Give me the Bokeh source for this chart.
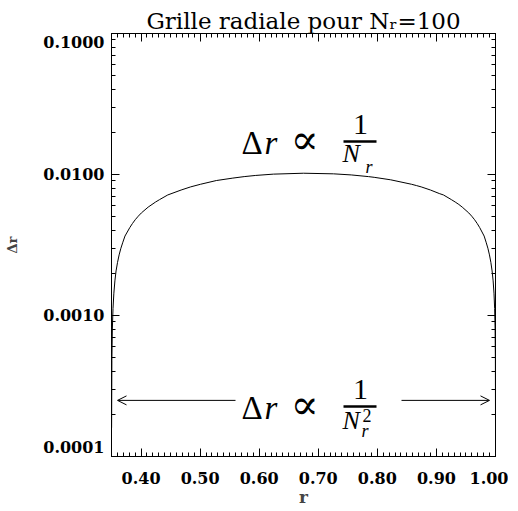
import numpy as np
from bokeh.plotting import figure
from bokeh.models import (FixedTicker, LinearAxis, LogAxis, Label, Arrow, OpenHead,
                          ColumnDataSource, Range1d)
from bokeh.embed import file_html
from bokeh.resources import INLINE

# ---- data ----
r_vals = [0.35016, 0.35064, 0.35144, 0.35256, 0.35400, 0.35576, 0.35771, 0.36021,
          0.36290, 0.36591, 0.36921, 0.37282, 0.37673, 0.38093, 0.38542, 0.39020,
          0.39526, 0.40059, 0.41207, 0.42458, 0.43121, 0.44519, 0.46784, 0.48397,
          0.50086, 0.52745, 0.55536, 0.57457, 0.59418, 0.62416, 0.67500, 0.72584,
          0.75582, 0.78509, 0.79464, 0.82255, 0.85768, 0.86603, 0.87420, 0.88993,
          0.90481, 0.91191, 0.92542, 0.93180, 0.93793, 0.94370, 0.95474, 0.95980,
          0.96458, 0.96907, 0.97327, 0.97718, 0.98079, 0.98409, 0.98710, 0.98979,
          0.99217, 0.99424, 0.99600, 0.99744, 0.99856, 0.99936, 0.99984, 1.00000]
dr_vals = [1.60e-4, 4.81e-4, 8.01e-4, 1.12e-3, 1.44e-3, 1.76e-3, 2.07e-3, 2.38e-3,
           2.69e-3, 3.00e-3, 3.31e-3, 3.66e-3, 3.91e-3, 4.20e-3, 4.49e-3, 4.78e-3,
           5.06e-3, 5.34e-3, 5.87e-3, 6.38e-3, 6.63e-3, 7.16e-3, 7.76e-3, 8.17e-3,
           8.53e-3, 9.06e-3, 9.43e-3, 9.66e-3, 9.85e-3, 1.006e-2, 1.021e-2, 1.011e-2,
           9.93e-3, 9.66e-3, 9.55e-3, 9.17e-3, 8.53e-3, 8.35e-3, 8.17e-3, 7.76e-3,
           7.33e-3, 7.16e-3, 6.63e-3, 6.38e-3, 6.13e-3, 5.87e-3, 5.34e-3, 5.06e-3,
           4.78e-3, 4.49e-3, 4.20e-3, 3.91e-3, 3.66e-3, 3.31e-3, 3.00e-3, 2.69e-3,
           2.38e-3, 2.07e-3, 1.76e-3, 1.44e-3, 1.12e-3, 8.01e-4, 4.81e-4, 1.60e-4]
x_ticks = [0.40, 0.50, 0.60, 0.70, 0.80, 0.90, 1.00]
x_tick_labels = ["0.40", "0.50", "0.60", "0.70", "0.80", "0.90", "1.00"]
y_ticks = [1e-4, 1e-3, 1e-2, 1e-1]
y_tick_labels = ["0.0001\n", "0.0010", "0.0100", "\n0.1000"]
arrow_level = 2.5e-4
title_text = "Grille radiale pour N\u1d63=100"

XMIN, XMAX = 0.35, 1.0
YMIN, YMAX = 1e-4, 1e-1

OX, OY = 2, 0                        # where the figure lands on the page
FL, FT, FW, FH = 111, 33, 384, 423   # frame position inside figure
W, H = FL + FW + 13, 510

# page pixel -> data helpers for annotation placement
def X(px):
    return XMIN + (px - OX - FL) * (XMAX - XMIN) / FW

def Y(py):
    return 10 ** (-4 + (FT + FH + OY - py) * 3.0 / FH)

SERIF = "DejaVu Serif"

p = figure(width=W, height=H, output_backend="svg", toolbar_location=None,
           x_range=Range1d(XMIN, XMAX), y_range=Range1d(YMIN, YMAX),
           y_axis_type="log", x_axis_location=None, y_axis_location=None,
           min_border_left=FL, min_border_top=FT,
           min_border_right=W - FL - FW, min_border_bottom=H - FT - FH)
p.grid.visible = False
p.outline_line_color = "black"
p.outline_line_width = 1
p.background_fill_color = "white"
p.border_fill_color = "white"

p.title.text = title_text
p.title.align = "center"
p.title.text_font = SERIF
p.title.text_font_size = "23px"
p.title.text_font_style = "normal"
p.title.text_color = "black"
p.title.standoff = 0

x_minor = [round(v, 2) for v in np.arange(0.35, 1.0001, 0.01)]
y_minor = [k * 10.0 ** e for e in range(-4, -1) for k in range(2, 10)]
xt = FixedTicker(ticks=x_ticks, minor_ticks=x_minor)
yt = FixedTicker(ticks=y_ticks, minor_ticks=y_minor)

def style(ax, labels=True):
    ax.axis_line_color = "black"
    ax.axis_line_width = 1
    ax.major_tick_in = 8
    ax.major_tick_out = 0
    ax.minor_tick_in = 4
    ax.minor_tick_out = 0
    ax.major_tick_line_color = "black"
    ax.minor_tick_line_color = "black"
    if labels:
        ax.major_label_text_font = SERIF
        ax.major_label_text_font_style = "bold"
        ax.major_label_text_font_size = "16px"
        ax.major_label_text_color = "black"
    else:
        ax.major_label_text_font_size = "1px"
        ax.major_label_text_color = None
        ax.major_label_standoff = 0

bottom = LinearAxis(ticker=xt, major_label_overrides=dict(zip(x_ticks, x_tick_labels)),
                    axis_label="r")
style(bottom)
bottom.major_label_standoff = 15
bottom.axis_label_text_font = SERIF
bottom.axis_label_text_font_style = "bold"
bottom.axis_label_text_font_size = "17px"
bottom.axis_label_standoff = 0
p.add_layout(bottom, "below")

left = LogAxis(ticker=yt, major_label_overrides=dict(zip(y_ticks, y_tick_labels)),
               axis_label="\u0394r")
style(left)
left.major_label_standoff = 7
left.major_label_text_line_height = 0.9
left.axis_label_text_font = SERIF
left.axis_label_text_font_style = "bold"
left.axis_label_text_font_size = "13px"
left.axis_label_standoff = 20
p.add_layout(left, "left")

top = LinearAxis(ticker=xt)
style(top, labels=False)
p.add_layout(top, "above")
right = LogAxis(ticker=yt)
style(right, labels=False)
p.add_layout(right, "right")

# curve
src = ColumnDataSource(dict(r=r_vals, dr=dr_vals))
p.line("r", "dr", source=src, line_color="black", line_width=1)

# arrows
head = dict(size=9, line_width=1, line_color="black")
p.add_layout(Arrow(end=OpenHead(**head), x_start=X(237), x_end=X(119),
                   y_start=arrow_level, y_end=arrow_level, line_width=1))
p.add_layout(Arrow(end=OpenHead(**head), x_start=X(403), x_end=X(491),
                   y_start=arrow_level, y_end=arrow_level, line_width=1))

def lab(px, base_py, text, fs, **kw):
    # text lands about 0.38 em lower than its anchor; compensate
    args = dict(text_baseline="alphabetic", text_color="black", text_font="Liberation Serif")
    args.update(kw)
    p.add_layout(Label(x=X(px), y=Y(base_py - 0.38 * fs), text=text,
                       text_font_size=f"{fs}px", **args))

def formula(base_py, num_base, den_base, bar_py, sup=False):
    lab(243, base_py, "\u0394", 33)
    lab(266, base_py, "r", 33, text_font_style="italic")
    lab(292, base_py, "\u221d", 42, text_font="DejaVu Serif")
    lab(362, num_base, "1", 30, text_align="center")
    p.segment(x0=[X(345)], x1=[X(378)], y0=[Y(bar_py)], y1=[Y(bar_py)],
              line_width=2.5, line_color="black")
    lab(344, den_base, "N", 26, text_font_style="italic")
    if sup:
        lab(363, den_base + 7, "r", 18, text_font_style="italic")
        lab(364, den_base - 8, "2", 18)
    else:
        lab(367, den_base + 10, "r", 18, text_font_style="italic")

formula(155, 135, 163, 141)
formula(420, 400, 430, 406, sup=True)

open("out.html", "w").write(file_html(p, INLINE))
